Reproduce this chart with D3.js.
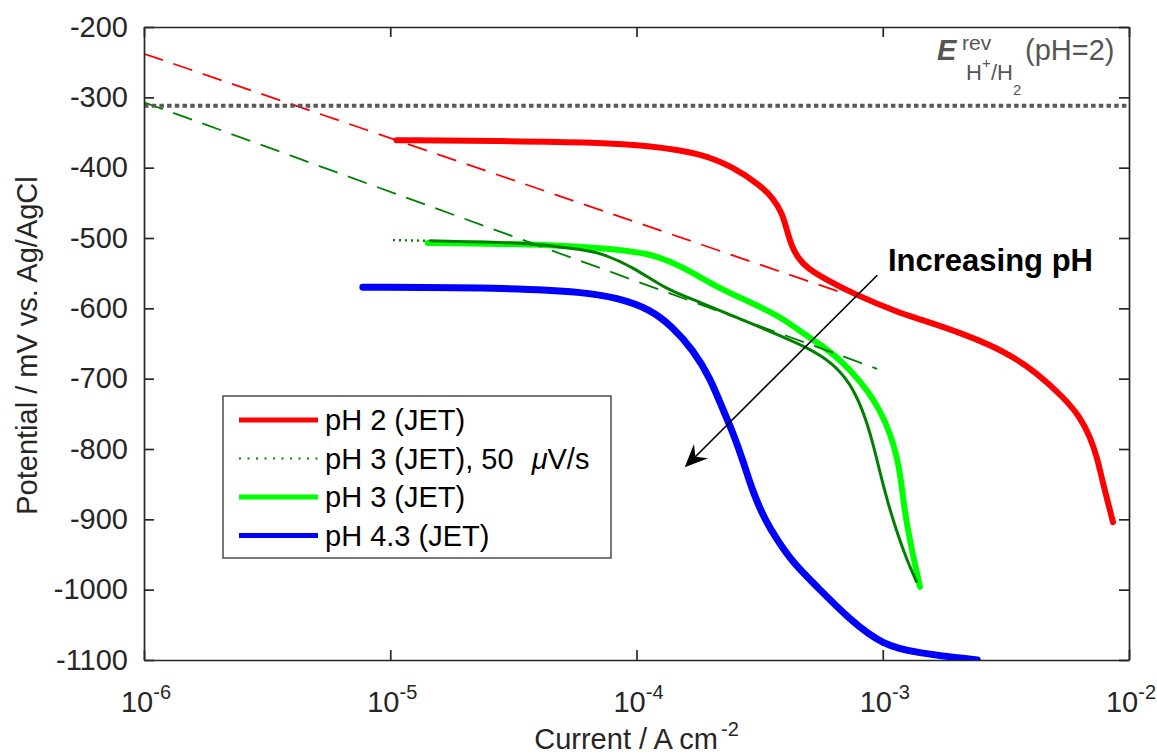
<!DOCTYPE html>
<html>
<head>
<meta charset="utf-8">
<script src="https://cdn.jsdelivr.net/npm/d3@7"></script>
<style>
  body { margin: 0; background: #fff; }
  text { font-family: "Liberation Sans", Arial, Helvetica, sans-serif; }
</style>
</head>
<body>
<div class="polchart"></div>
<script>
'use strict';

// ---- data (current in A cm-2, potential in mV vs. Ag/AgCl) ----
var ph2Current   = [1.06e-5, 2.79e-5, 7.11e-5, 1.135e-4, 1.81e-4, 2.47e-4, 3.18e-4, 3.58e-4, 3.90e-4, 4.08e-4, 4.28e-4, 4.53e-4,
                    4.92e-4, 5.94e-4, 7.57e-4, 1.175e-3, 1.377e-3, 2.20e-3, 3.20e-3, 4.23e-3, 5.40e-3, 6.32e-3, 6.95e-3,
                    7.41e-3, 7.83e-3, 8.37e-3, 8.61e-3];
var ph2Potential = [-361, -362, -364, -369, -379, -399, -425, -443, -464, -489, -513, -528,
                    -543, -560, -579, -607, -614, -638, -663, -692, -726, -754, -783,
                    -811, -848, -887, -904];

var ph3SlowCurrent   = [1.026e-5, 1.45e-5, 3.94e-5, 6.07e-5, 7.11e-5, 9.68e-5, 1.33e-4, 1.81e-4, 2.71e-4, 3.39e-4,
                        4.92e-4, 6.28e-4, 7.36e-4, 8.32e-4, 9.12e-4, 9.75e-4, 1.05e-3, 1.143e-3, 1.253e-3, 1.377e-3];
var ph3SlowPotential = [-503, -504, -507, -517, -521, -541, -574, -591, -617, -631,
                        -655, -678, -706, -745, -791, -834, -877, -919, -958, -990];

var ph3Current   = [1.42e-5, 2.54e-5, 4.46e-5, 7.11e-5, 1.135e-4, 1.545e-4, 2.12e-4, 2.89e-4, 3.94e-4, 4.61e-4,
                    6.28e-4, 7.57e-4, 8.63e-4, 9.75e-4, 1.069e-3, 1.143e-3, 1.186e-3, 1.219e-3, 1.265e-3, 1.327e-3, 1.416e-3];
var ph3Potential = [-507, -508, -510, -514, -521, -541, -570, -591, -614, -633,
                    -663, -692, -716, -745, -777, -811, -844, -880, -915, -951, -996];

var ph43Current   = [7.74e-6, 3.27e-5, 6.07e-5, 8.34e-5, 1.135e-4, 1.406e-4, 1.694e-4, 1.986e-4, 2.244e-4, 2.466e-4,
                     2.704e-4, 2.972e-4, 3.327e-4, 3.724e-4, 4.325e-4, 5.41e-4, 7.36e-4, 1.002e-3, 1.377e-3, 2.42e-3];
var ph43Potential = [-570, -571, -577, -585, -601, -627, -659, -698, -744, -777,
                     -816, -862, -901, -929, -962, -996, -1043, -1079, -1090, -1100];

// tafel fits (dashed)
var tafelRedCurrent     = [1e-6, 6.6e-4];
var tafelRedPotential   = [-238, -576];
var tafelGreenCurrent   = [1e-6, 9.5e-4];
var tafelGreenPotential = [-307, -686];

// reversible hydrogen potential at pH 2
var revCurrent   = [1e-6, 1e-2];
var revPotential = -312;

// arrow "Increasing pH"
var arrowCurrent   = [9.5e-4, 1.57e-4];
var arrowPotential = [-553, -826];

var xExponents = [-6, -5, -4, -3, -2];
var yTicks = [-1100, -1000, -900, -800, -700, -600, -500, -400, -300, -200];

var legendLabels = ["pH 2 (JET)", "pH 3 (JET), 50 ", "pH 3 (JET)", "pH 4.3 (JET)"];

// ---- layout ----
var margin = {top: 27, right: 28, bottom: 94, left: 144};
var width = 1157 - margin.left - margin.right;
var height = 754 - margin.top - margin.bottom;
var axisColor = "#262626";

var svg = d3.select(".polchart")
            .append("svg")
            .attr("width", width + margin.left + margin.right)
            .attr("height", height + margin.top + margin.bottom);

var canvas = svg.append("g")
                .attr("transform", "translate(" + margin.left + "," + margin.top + ")");

var x = d3.scaleLog().domain([1e-6, 1e-2]).range([0, width]);
var y = d3.scaleLinear().domain([-1100, -200]).range([height, 0]);

var xTicks = xExponents.map(function(e){ return Math.pow(10, e); });

canvas.append("clipPath").attr("id", "plotclip")
      .append("rect").attr("width", width).attr("height", height);

var plot = canvas.append("g").attr("clip-path", "url(#plotclip)");

function zip(cur, pot){
      return cur.map(function(c, i){ return [c, Array.isArray(pot) ? pot[i] : pot]; });
}

// smooth measured curves
var line = d3.line()
             .x(function(d){ return x(d[0]); })
             .y(function(d){ return y(d[1]); })
             .curve(d3.curveBasis);

var straight = d3.line()
                 .x(function(d){ return x(d[0]); })
                 .y(function(d){ return y(d[1]); });

// measured curves
plot.append("path").datum(zip(ph3Current, ph3Potential))
    .attr("d", line).attr("fill", "none").attr("stroke", "#00ff00")
    .attr("stroke-width", 6).attr("stroke-linecap", "round").attr("stroke-linejoin", "round");

var slow = zip(ph3SlowCurrent, ph3SlowPotential);
plot.append("path").datum(slow.slice(0, 2))
    .attr("d", straight).attr("fill", "none").attr("stroke", "#008000")
    .attr("stroke-width", 2.4).attr("stroke-dasharray", "2,4");
plot.append("path").datum(slow.slice(1))
    .attr("d", line).attr("fill", "none").attr("stroke", "#008000")
    .attr("stroke-width", 3).attr("stroke-linejoin", "round");

plot.append("path").datum(zip(ph43Current, ph43Potential))
    .attr("d", line).attr("fill", "none").attr("stroke", "#0000ff")
    .attr("stroke-width", 7).attr("stroke-linecap", "round").attr("stroke-linejoin", "round");

plot.append("path").datum(zip(ph2Current, ph2Potential))
    .attr("d", line).attr("fill", "none").attr("stroke", "#ff0000")
    .attr("stroke-width", 6).attr("stroke-linecap", "round").attr("stroke-linejoin", "round");

// tafel lines
plot.append("path").datum(zip(tafelRedCurrent, tafelRedPotential))
    .attr("d", straight).attr("fill", "none").attr("stroke", "#ff0000")
    .attr("stroke-width", 1.8).attr("stroke-dasharray", "20,11");
plot.append("path").datum(zip(tafelGreenCurrent, tafelGreenPotential))
    .attr("d", straight).attr("fill", "none").attr("stroke", "#008000")
    .attr("stroke-width", 1.8).attr("stroke-dasharray", "20,11");

// reversible potential
plot.append("path").datum(zip(revCurrent, revPotential))
    .attr("d", straight).attr("fill", "none").attr("stroke", "#5a5a5a")
    .attr("stroke-width", 4).attr("stroke-dasharray", "4.5,3.2");

// ---- axes ----
var xAxisBottom = canvas.append("g").attr("transform", "translate(0," + height + ")")
      .call(d3.axisBottom(x).tickValues(xTicks).tickSize(-10).tickSizeOuter(0).tickFormat(""));
var xAxisTop = canvas.append("g")
      .call(d3.axisTop(x).tickValues(xTicks).tickSize(-10).tickSizeOuter(0).tickFormat(""));
var yAxisLeft = canvas.append("g")
      .call(d3.axisLeft(y).tickValues(yTicks).tickSize(-10).tickSizeOuter(0).tickPadding(16)
              .tickFormat(function(d){ return String(d); }));
var yAxisRight = canvas.append("g").attr("transform", "translate(" + width + ",0)")
      .call(d3.axisRight(y).tickValues(yTicks).tickSize(-10).tickSizeOuter(0).tickFormat(""));

[xAxisBottom, xAxisTop, yAxisLeft, yAxisRight].forEach(function(a){
      a.select(".domain").attr("stroke", axisColor).attr("stroke-width", 1.7);
      a.selectAll(".tick line").attr("stroke", axisColor).attr("stroke-width", 1.7);
});
yAxisLeft.selectAll(".tick text")
      .attr("font-size", 29).attr("fill", axisColor)
      .attr("font-family", "Liberation Sans, Arial, sans-serif");

// x tick labels 10^n
var xl = canvas.append("g").selectAll("text.xlab")
      .data(xExponents).enter().append("text")
      .attr("class", "xlab")
      .attr("x", function(d){ return x(Math.pow(10, d)) + 2; })
      .attr("y", height + 52)
      .attr("text-anchor", "middle")
      .attr("fill", axisColor)
      .attr("font-size", 29);
xl.append("tspan").text("10");
xl.append("tspan").attr("font-size", 20).attr("dy", -13).text(function(d){ return String(d); });

// axis titles
var xt = canvas.append("text")
      .attr("x", width / 2).attr("y", height + 89)
      .attr("text-anchor", "middle").attr("fill", axisColor).attr("font-size", 29);
xt.append("tspan").text("Current / A cm");
xt.append("tspan").attr("font-size", 20).attr("dy", -13).attr("dx", 3).text("-2");

canvas.append("text")
      .attr("transform", "rotate(-90)")
      .attr("x", -height / 2 - 2).attr("y", -107)
      .attr("text-anchor", "middle").attr("fill", axisColor).attr("font-size", 29)
      .text("Potential / mV vs. Ag/AgCl");

// ---- E rev label ----
var labColor = "#555555";
var lx = 793, ly = 33;
canvas.append("text").attr("x", lx).attr("y", ly).attr("fill", labColor)
      .attr("font-size", 29).attr("font-weight", "bold").attr("font-style", "italic").text("E");
canvas.append("text").attr("x", lx + 25).attr("y", ly - 10).attr("fill", labColor)
      .attr("font-size", 21).text("rev");
canvas.append("text").attr("x", lx + 29).attr("y", ly + 20).attr("fill", labColor)
      .attr("font-size", 22).text("H");
canvas.append("text").attr("x", lx + 45).attr("y", ly + 8).attr("fill", labColor)
      .attr("font-size", 15).text("+");
canvas.append("text").attr("x", lx + 54).attr("y", ly + 20).attr("fill", labColor)
      .attr("font-size", 22).text("/H");
canvas.append("text").attr("x", lx + 76).attr("y", ly + 35).attr("fill", labColor)
      .attr("font-size", 15).text("2");
canvas.append("text").attr("x", lx + 88).attr("y", ly).attr("fill", labColor)
      .attr("font-size", 29).text("(pH=2)");

// ---- arrow + label ----
var a0 = [x(arrowCurrent[0]), y(arrowPotential[0])];
var a1 = [x(arrowCurrent[1]), y(arrowPotential[1])];
var ang = Math.atan2(a1[1] - a0[1], a1[0] - a0[0]);
var ux = Math.cos(ang), uy = Math.sin(ang), nx = -uy, ny = ux;
var headLen = 23, headHalf = 10, notch = 15;
var notchPt = [a1[0] - ux * notch, a1[1] - uy * notch];
canvas.append("line")
      .attr("x1", a0[0]).attr("y1", a0[1]).attr("x2", notchPt[0]).attr("y2", notchPt[1])
      .attr("stroke", "#000").attr("stroke-width", 1.6);
canvas.append("path")
      .attr("d", "M" + a1[0] + "," + a1[1] +
                 "L" + (a1[0] - ux * headLen + nx * headHalf) + "," + (a1[1] - uy * headLen + ny * headHalf) +
                 "L" + notchPt[0] + "," + notchPt[1] +
                 "L" + (a1[0] - ux * headLen - nx * headHalf) + "," + (a1[1] - uy * headLen - ny * headHalf) + "Z")
      .attr("fill", "#000");

canvas.append("text")
      .attr("x", x(1.05e-3)).attr("y", y(-547))
      .attr("font-size", 31).attr("font-weight", "bold").attr("fill", "#000")
      .text("Increasing pH");

// ---- legend ----
var legend = canvas.append("g").attr("transform", "translate(79,369)");
legend.append("rect").attr("width", 388).attr("height", 162)
      .attr("fill", "#fff").attr("stroke", "#404040").attr("stroke-width", 1.4);

var legendStyles = [
      {color: "#ff0000", width: 5, dash: null},
      {color: "#008000", width: 2.2, dash: "2,6.5"},
      {color: "#00ff00", width: 5, dash: null},
      {color: "#0000ff", width: 5, dash: null}
];

legendLabels.forEach(function(lab, i){
      var ry = 24 + i * 38.5;
      legend.append("line")
            .attr("x1", 16).attr("x2", 95).attr("y1", ry).attr("y2", ry)
            .attr("stroke", legendStyles[i].color).attr("stroke-width", legendStyles[i].width)
            .attr("stroke-dasharray", legendStyles[i].dash);
      var t = legend.append("text").attr("x", 102).attr("y", ry + 10)
            .attr("font-size", 29).attr("fill", "#000").text(lab);
      if (i === 1) {
            t.append("tspan").attr("font-style", "italic").attr("dx", 10).text("\u03bc");
            t.append("tspan").text("V/s");
      }
});
</script>
</body>
</html>
